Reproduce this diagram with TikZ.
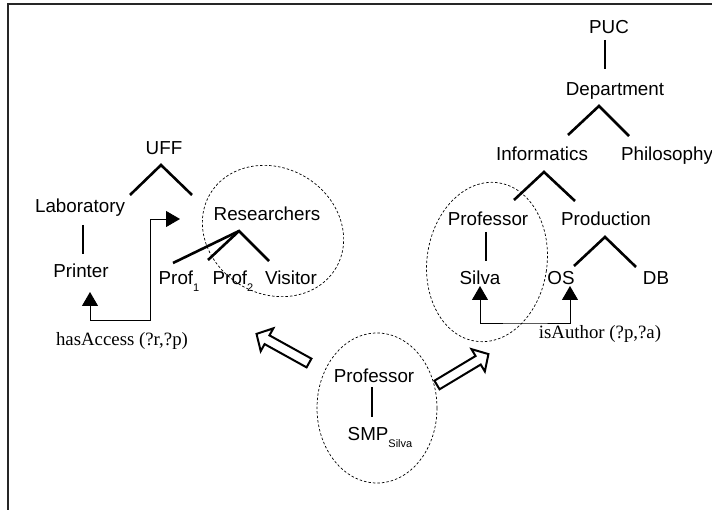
\documentclass[tikz,border=0pt]{standalone}
\usepackage{fontspec}
\setmainfont{Liberation Sans}
\newfontfamily\seriffont{Liberation Serif}
\usetikzlibrary{arrows.meta}
\newcommand{\lowsub}[1]{\raisebox{-7pt}{\fontsize{11}{12}\selectfont #1}}
\begin{document}
\begin{tikzpicture}[x=1pt,y=-1pt,
  lbl/.style={anchor=base, inner sep=0pt, font=\fontsize{18.8}{22}\selectfont},
  rel/.style={anchor=base, inner sep=0pt, font=\seriffont\fontsize{18.8}{22}\selectfont},
  tree/.style={line width=2.6pt},
  conn/.style={line width=0.9pt, {Triangle[length=14pt,width=16pt]}-{Triangle[length=14pt,width=16pt]}},
  zone/.style={dash pattern=on 2.5pt off 2pt, line width=0.7pt},
  fat/.style={line width=2pt, fill=white, line join=miter},
]
\useasboundingbox (0,0) rectangle (712,510);
% frame
\draw[line width=1.5pt, black!85] (8,510) -- (8,4) -- (712,4);

% left tree
\node[lbl] (uff) at (164,155) {UFF};
\node[lbl] (lab) at (80,213) {Laboratory};
\node[lbl] (printer) at (81,278) {Printer};
\node[lbl] (res) at (267,221) {Researchers};
\node[lbl] (prof1) at (179,285) {Prof\lowsub{1}};
\node[lbl] (prof2) at (233,285) {Prof\lowsub{2}};
\node[lbl] (visitor) at (291,285) {Visitor};
\node[rel] (hasacc) at (122,346) {hasAccess (?r,?p)};

\coordinate (uffL) at (130,195); \coordinate (uffA) at (161,165); \coordinate (uffR) at (192,195);
\draw[tree] (uffL) -- (uffA) -- (uffR);
\coordinate (labT) at (83,225); \coordinate (labB) at (83,254);
\draw[tree] (labT) -- (labB);
\coordinate (resA) at (239,231); \coordinate (resP1) at (173,263);
\coordinate (resP2) at (208,260); \coordinate (resV) at (269,261);
\draw[tree] (resP1) -- (resA) -- (resV);
\draw[tree] (resP2) -- (resA);

\draw[zone, rotate around={-30:(273,231)}] (273,231) ellipse [x radius=73, y radius=63];

\coordinate (pa) at (90,292); \coordinate (hc) at (150,320); \coordinate (ra) at (180,219);
\draw[conn] (pa) |- (hc) |- (ra);

% right tree
\node[lbl] (puc) at (609,34) {PUC};
\node[lbl] (dept) at (615,96) {Department};
\node[lbl] (inf) at (542,161) {Informatics};
\node[lbl] (phil) at (667,161) {Philosophy};
\node[lbl] (prof) at (488,226) {Professor};
\node[lbl] (prod) at (606,226) {Production};
\node[lbl] (silva) at (480,285) {Silva};
\node[lbl] (os) at (561,285) {OS};
\node[lbl] (db) at (656,285) {DB};
\node[rel] (isauth) at (600,339) {isAuthor (?p,?a)};

\coordinate (pucT) at (605,40); \coordinate (pucB) at (605,69);
\draw[tree] (pucT) -- (pucB);
\coordinate (depL) at (568,135); \coordinate (depA) at (599,106); \coordinate (depR) at (629,136);
\draw[tree] (depL) -- (depA) -- (depR);
\coordinate (infL) at (514,200); \coordinate (infA) at (544,172); \coordinate (infR) at (575,201);
\draw[tree] (infL) -- (infA) -- (infR);
\coordinate (prT) at (486,232); \coordinate (prB) at (486,261);
\draw[tree] (prT) -- (prB);
\coordinate (prdL) at (574,266); \coordinate (prdA) at (605,237); \coordinate (prdR) at (636,267);
\draw[tree] (prdL) -- (prdA) -- (prdR);

\draw[zone, rotate around={-8:(487,262)}] (487,262) ellipse [x radius=60, y radius=80];

\coordinate (sa) at (480,286); \coordinate (oa) at (570,286); \coordinate (ic) at (525,323);
\draw[conn] (sa) |- (ic) -| (oa);

% bottom
\node[lbl] (bprof) at (374,383) {Professor};
\node[lbl] (smp) at (380,440) {SMP\lowsub{Silva}};
\coordinate (bpT) at (372,387); \coordinate (bpB) at (372,417);
\draw[tree] (bpT) -- (bpB);
\draw[zone] (377,408) ellipse [x radius=60, y radius=75];

% fat arrows
\begin{scope}[shift={(309,363)}, rotate=151]
  \draw[fat] (0,-5) -- (48,-5) -- (48,-13) -- (60,0) -- (48,13) -- (48,5) -- (0,5) -- cycle;
\end{scope}
\begin{scope}[shift={(437,385)}, rotate=31]
  \draw[fat] (0,-5) -- (48,-5) -- (48,-13) -- (60,0) -- (48,13) -- (48,5) -- (0,5) -- cycle;
\end{scope}
\end{tikzpicture}
\end{document}
